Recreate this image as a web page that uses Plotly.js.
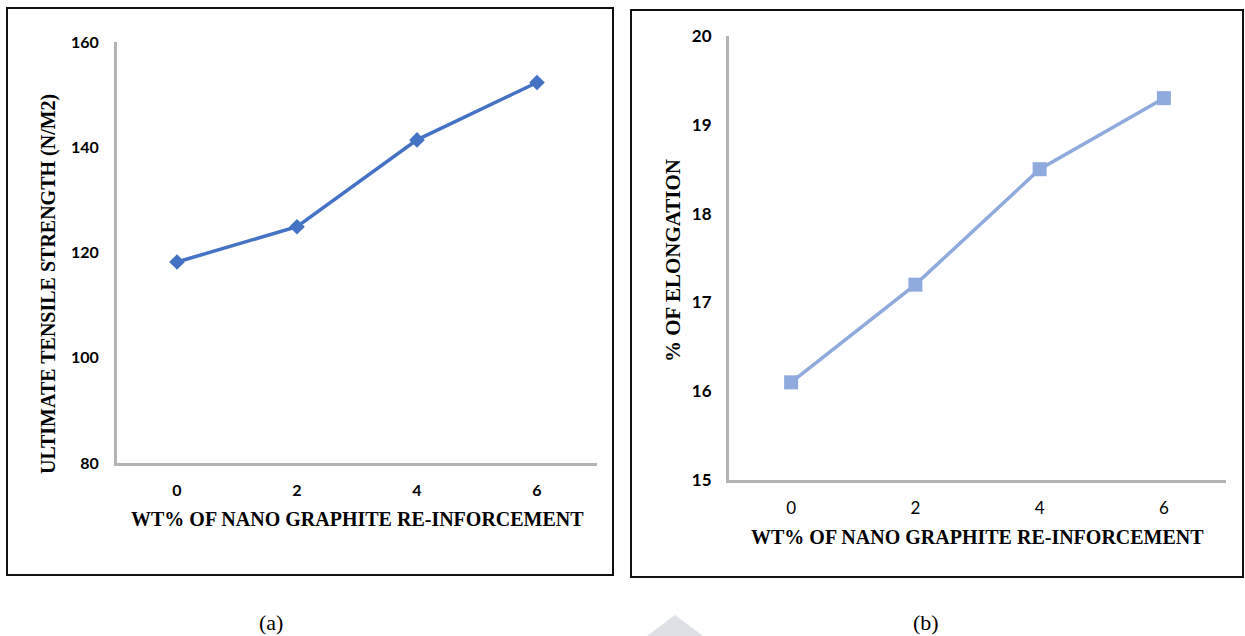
<!DOCTYPE html>
<html>
<head>
<meta charset="utf-8">
<script src="https://cdn.plot.ly/plotly-3.0.1.min.js"></script>
<style>
  html, body { margin: 0; padding: 0; background: #fff; }
  #chart { width: 1245px; height: 636px; }
</style>
</head>
<body>
<div id="chart"></div>
<script>
// ---- Data ----
const wtPercent = ['0', '2', '4', '6'];
const tensileStrength = [118.2, 124.9, 141.4, 152.3];
const elongation = [16.1, 17.2, 18.5, 19.3];
const tensileTicks = [80, 100, 120, 140, 160];
const elongationTicks = [15, 16, 17, 18, 19, 20];

const xTitle = 'WT% OF NANO GRAPHITE RE-INFORCEMENT';
const yTitleA = 'ULTIMATE TENSILE STRENGTH (N/M2)';
const yTitleB = '% OF ELONGATION';

const W = 1245, H = 636;
const px = v => v / W;
const py = v => 1 - v / H;

const serif = 'Liberation Serif, Times New Roman, serif';
const sans = 'Lato, Carlito, Calibri, sans-serif';
const axisGray = '#b3b3b3';

const traces = [
  {
    x: wtPercent, y: tensileStrength, xaxis: 'x', yaxis: 'y',
    type: 'scatter', mode: 'lines+markers',
    line: { color: '#4472c4', width: 3.5 },
    marker: { symbol: 'diamond', size: 12, color: '#4472c4' },
    hoverinfo: 'x+y'
  },
  {
    x: wtPercent, y: elongation, xaxis: 'x2', yaxis: 'y2',
    type: 'scatter', mode: 'lines+markers',
    line: { color: '#8faadc', width: 3.5 },
    marker: { symbol: 'square', size: 14, color: '#8faadc' },
    hoverinfo: 'x+y'
  }
];

const layout = {
  width: W, height: H,
  margin: { l: 0, r: 0, t: 0, b: 0 },
  paper_bgcolor: '#ffffff',
  plot_bgcolor: 'rgba(0,0,0,0)',
  showlegend: false,
  xaxis: {
    domain: [px(117), px(597)], anchor: 'y', type: 'category',
    range: [-0.5, 3.5], showgrid: false, zeroline: false,
    showline: true, linecolor: axisGray, linewidth: 3, ticks: '',
    ticklabelstandoff: 11,
    tickfont: { family: sans, size: 16, color: '#000', weight: 'bold' }
  },
  yaxis: {
    domain: [py(463), py(42)], anchor: 'x',
    range: [80, 160], tickvals: tensileTicks, showgrid: false, zeroline: false,
    showline: true, linecolor: axisGray, linewidth: 3, ticks: '',
    ticklabelstandoff: 12,
    tickfont: { family: sans, size: 16, color: '#000', weight: 'bold' }
  },
  xaxis2: {
    domain: [px(729), px(1226)], anchor: 'y2', type: 'category',
    range: [-0.5, 3.5], showgrid: false, zeroline: false,
    showline: true, linecolor: axisGray, linewidth: 3, ticks: '',
    ticklabelstandoff: 11,
    tickfont: { family: sans, size: 17, color: '#000' }
  },
  yaxis2: {
    domain: [py(480), py(36)], anchor: 'x2',
    range: [15, 20], tickvals: elongationTicks, showgrid: false, zeroline: false,
    showline: true, linecolor: axisGray, linewidth: 3, ticks: '',
    ticklabelstandoff: 11,
    tickfont: { family: sans, size: 17, color: '#000', weight: 'bold' }
  },
  shapes: [
    { type: 'rect', xref: 'paper', yref: 'paper', x0: px(7), x1: px(613), y0: py(575), y1: py(8),
      line: { color: '#111', width: 2 }, fillcolor: 'rgba(0,0,0,0)', layer: 'below' },
    { type: 'rect', xref: 'paper', yref: 'paper', x0: px(631), x1: px(1243), y0: py(577), y1: py(10),
      line: { color: '#111', width: 2 }, fillcolor: 'rgba(0,0,0,0)', layer: 'below' },
    { type: 'path', xref: 'paper', yref: 'paper',
      path: `M ${px(647)} ${py(636)} L ${px(675)} ${py(615)} L ${px(703)} ${py(636)} Z`,
      line: { width: 0 }, fillcolor: '#dde1e6', layer: 'below' }
  ],
  annotations: [
    { text: xTitle, xref: 'paper', yref: 'paper', x: px(357), y: py(519),
      showarrow: false, xanchor: 'center', yanchor: 'middle',
      font: { family: serif, size: 20, color: '#000', weight: 'bold' } },
    { text: xTitle, xref: 'paper', yref: 'paper', x: px(977), y: py(537),
      showarrow: false, xanchor: 'center', yanchor: 'middle',
      font: { family: serif, size: 20, color: '#000', weight: 'bold' } },
    { text: yTitleA, xref: 'paper', yref: 'paper', x: px(48), y: py(284),
      showarrow: false, textangle: -90, xanchor: 'center', yanchor: 'middle',
      font: { family: serif, size: 20, color: '#000', weight: 'bold' } },
    { text: yTitleB, xref: 'paper', yref: 'paper', x: px(673), y: py(261),
      showarrow: false, textangle: -90, xanchor: 'center', yanchor: 'middle',
      font: { family: serif, size: 21, color: '#000', weight: 'bold' } },
    { text: '(a)', xref: 'paper', yref: 'paper', x: px(271), y: py(622),
      showarrow: false, xanchor: 'center', yanchor: 'middle',
      font: { family: serif, size: 22, color: '#000' } },
    { text: '(b)', xref: 'paper', yref: 'paper', x: px(926), y: py(622),
      showarrow: false, xanchor: 'center', yanchor: 'middle',
      font: { family: serif, size: 22, color: '#000' } }
  ]
};

Plotly.newPlot('chart', traces, layout, { displayModeBar: false, staticPlot: true });
</script>
</body>
</html>
